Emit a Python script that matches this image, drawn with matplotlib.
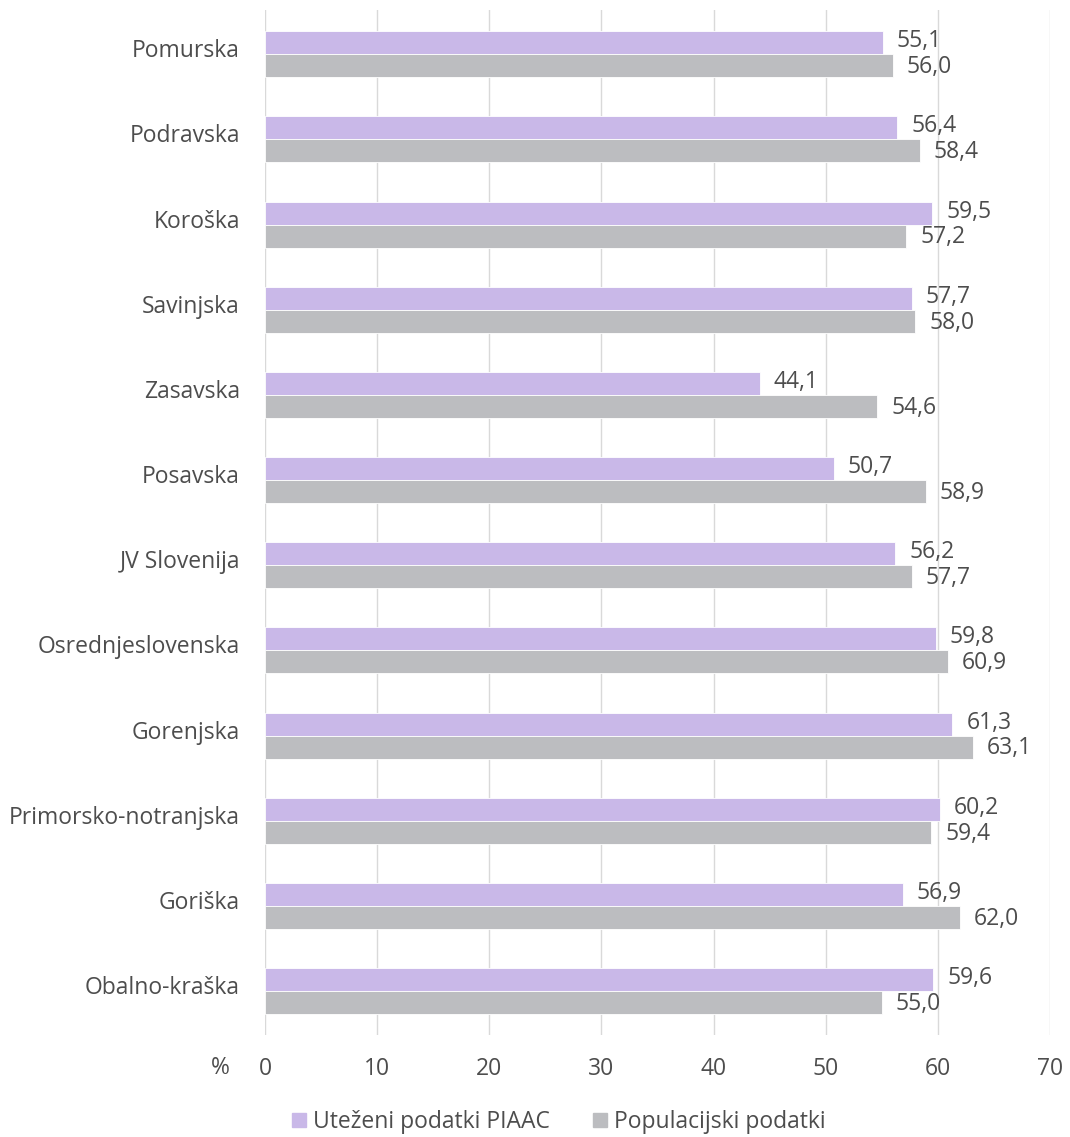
import numpy as np
import matplotlib.pyplot as plt
import matplotlib.transforms as mtransforms
from matplotlib.patches import Patch

plt.rcParams['font.family'] = ['Open Sans', 'DejaVu Sans']

# Podatki
regije = ["Pomurska", "Podravska", "Koroška", "Savinjska", "Zasavska", "Posavska",
          "JV Slovenija", "Osrednjeslovenska", "Gorenjska", "Primorsko-notranjska",
          "Goriška", "Obalno-kraška"]
piaac = [55.1, 56.4, 59.5, 57.7, 44.1, 50.7, 56.2, 59.8, 61.3, 60.2, 56.9, 59.6]
populacija = [56.0, 58.4, 57.2, 58.0, 54.6, 58.9, 57.7, 60.9, 63.1, 59.4, 62.0, 55.0]
xticks = [0, 10, 20, 30, 40, 50, 60, 70]

c_piaac = "#c9b8e8"
c_pop = "#bcbdc0"
c_text = "#4d4d4d"
fs = 16.5

fig = plt.figure(figsize=(10.7, 11.37), dpi=100)
ax = fig.add_axes([0.2477, 0.0897, 0.7336, 0.9013])

y = np.arange(len(regije))
h = 0.27
ax.barh(y - h / 2, piaac, height=h, color=c_piaac, edgecolor="white", linewidth=0.6, zorder=2)
ax.barh(y + h / 2, populacija, height=h, color=c_pop, edgecolor="white", linewidth=0.6, zorder=2)

for yi, v in zip(y, piaac):
    ax.annotate(f"{v:.1f}".replace(".", ","), (v, yi - h / 2), xytext=(10, 1),
                textcoords="offset points", va="center", ha="left", fontsize=fs, color=c_text)
for yi, v in zip(y, populacija):
    ax.annotate(f"{v:.1f}".replace(".", ","), (v, yi + h / 2), xytext=(10, -1),
                textcoords="offset points", va="center", ha="left", fontsize=fs, color=c_text)

ax.set_xlim(0, 70)
ax.set_ylim(len(regije) - 0.484, -0.516)
ax.set_xticks(xticks)
ax.set_xticklabels([str(t) for t in xticks])
ax.set_yticks(y)
ax.set_yticklabels(regije)
ax.tick_params(axis="both", length=0, labelsize=fs, labelcolor=c_text)
ax.tick_params(axis="x", pad=16)
ax.tick_params(axis="y", pad=18)
shift = mtransforms.ScaledTranslation(0, 6 / 100, fig.dpi_scale_trans)
for lbl in ax.get_yticklabels():
    lbl.set_transform(lbl.get_transform() + shift)
ax.grid(axis="x", color="#d9d9d9", linewidth=1, zorder=0)
for s in ax.spines.values():
    s.set_visible(False)

fig.text(220 / 1070, 1 - 1068 / 1137, "%", fontsize=fs, color=c_text, ha="center", va="center")

handles = [Patch(color=c_piaac, label="Uteženi podatki PIAAC"),
           Patch(color=c_pop, label="Populacijski podatki")]
fig.legend(handles=handles, loc="center", bbox_to_anchor=(0.522, 1 - 1122 / 1137), ncol=2,
           frameon=False, fontsize=fs, handlelength=0.6, handleheight=0.6,
           handletextpad=0.3, columnspacing=1.9, labelcolor=c_text)

fig.savefig("out.png", dpi=100)
